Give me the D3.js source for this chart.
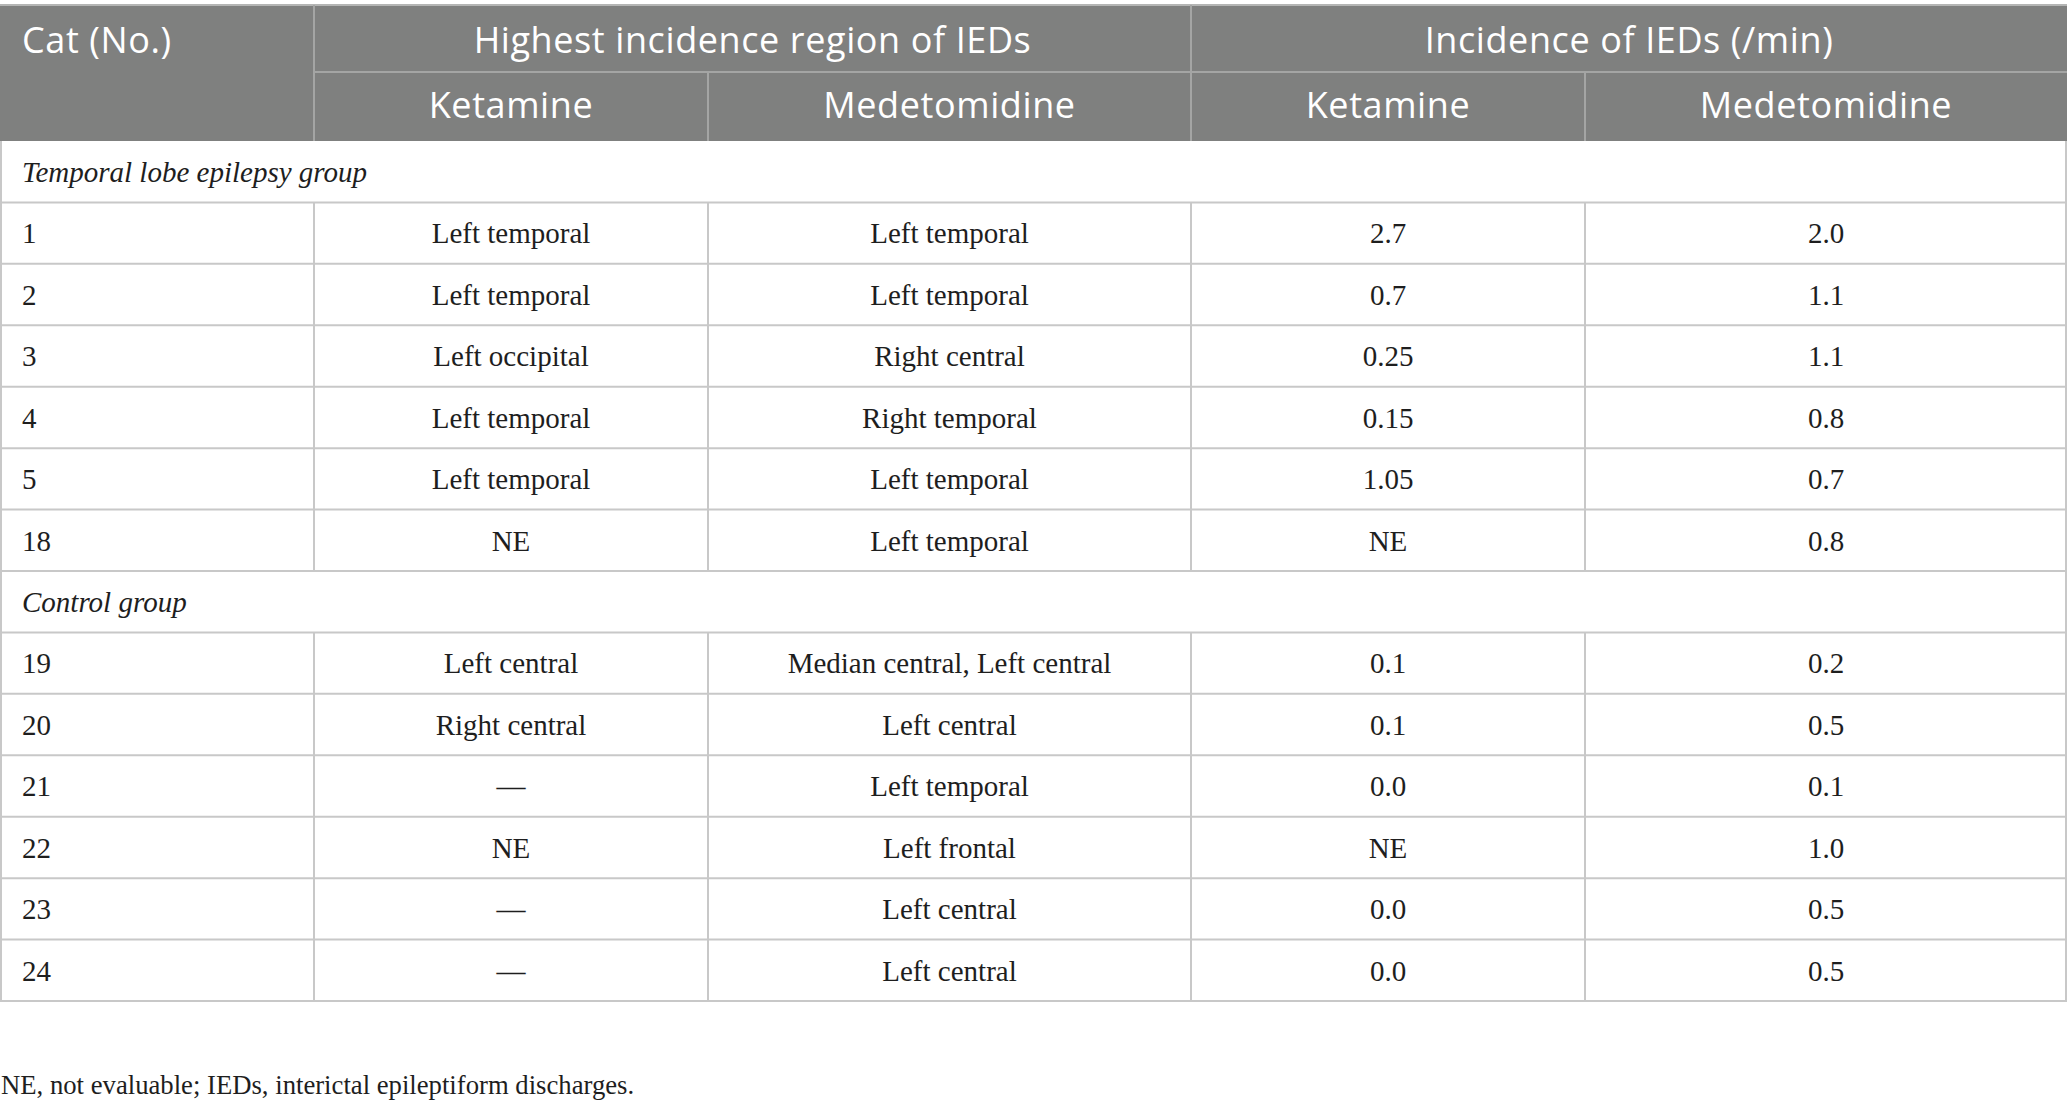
<!DOCTYPE html>
<html>
<head>
<meta charset="utf-8">
<script src="https://cdn.jsdelivr.net/npm/d3@7"></script>
<style>
  html, body { margin: 0; padding: 0; background: #ffffff; }
  svg { display: block; }
</style>
</head>
<body>
<div id="chart"></div>
<script>
// ---------- DATA ----------
const firstHeader = "Cat (No.)";
const headerGroups = ["Highest incidence region of IEDs", "Incidence of IEDs (/min)"];
const subHeaders = ["Ketamine", "Medetomidine", "Ketamine", "Medetomidine"];
const groupLabels = ["Temporal lobe epilepsy group", "Control group"];
const cats = ["1", "2", "3", "4", "5", "18", "19", "20", "21", "22", "23", "24"];
const catGroup = [0, 0, 0, 0, 0, 0, 1, 1, 1, 1, 1, 1];
const regionKetamine = ["Left temporal", "Left temporal", "Left occipital", "Left temporal", "Left temporal", "NE",
  "Left central", "Right central", "—", "NE", "—", "—"];
const regionMedetomidine = ["Left temporal", "Left temporal", "Right central", "Right temporal", "Left temporal", "Left temporal",
  "Median central, Left central", "Left central", "Left temporal", "Left frontal", "Left central", "Left central"];
const incidenceKetamine = ["2.7", "0.7", "0.25", "0.15", "1.05", "NE", "0.1", "0.1", "0.0", "NE", "0.0", "0.0"];
const incidenceMedetomidine = ["2.0", "1.1", "1.1", "0.8", "0.7", "0.8", "0.2", "0.5", "0.1", "1.0", "0.5", "0.5"];
const footnote = "NE, not evaluable; IEDs, interictal epileptiform discharges.";

// ---------- LAYOUT ----------
const W = 2068, H = 1102;
const colEdges = [0, 314, 708, 1191, 1585, 2067];
const tableTop = 5, headRow1Bottom = 72, headBottom = 141, bodyBottom = 1001;
const headerFill = "#7f807f", headerLine = "#a4a5a4", gridLine = "#c8c8c8";
const sansFont = "'Open Sans', 'Noto Sans', sans-serif";
const serifFont = "'Liberation Serif', 'DejaVu Serif', serif";

// Build body rows: group label rows followed by their cats
const rows = [];
groupLabels.forEach((g, gi) => {
  rows.push({ type: "group", label: g });
  cats.forEach((c, i) => {
    if (catGroup[i] === gi) {
      rows.push({ type: "data", cells: [c, regionKetamine[i], regionMedetomidine[i], incidenceKetamine[i], incidenceMedetomidine[i]] });
    }
  });
});

const svg = d3.select("#chart").append("svg").attr("width", W).attr("height", H);

const yBody = d3.scaleBand().domain(d3.range(rows.length)).range([headBottom, bodyBottom]).padding(0);
const colX = d3.scaleOrdinal().domain(d3.range(colEdges.length)).range(colEdges);
const colCenter = i => (colX(i) + colX(i + 1)) / 2;

// ---------- HEADER ----------
svg.append("rect").attr("x", 0).attr("y", tableTop).attr("width", colEdges[5]).attr("height", headBottom - tableTop)
  .attr("fill", headerFill);
// top border
svg.append("line").attr("x1", 0).attr("x2", colEdges[5]).attr("y1", tableTop).attr("y2", tableTop)
  .attr("stroke", "#b4b5b4").attr("stroke-width", 2);
// header internal lines
svg.append("line").attr("x1", colEdges[1]).attr("x2", colEdges[5]).attr("y1", headRow1Bottom).attr("y2", headRow1Bottom)
  .attr("stroke", headerLine).attr("stroke-width", 2);
svg.append("line").attr("x1", colEdges[1]).attr("x2", colEdges[1]).attr("y1", tableTop).attr("y2", headBottom)
  .attr("stroke", headerLine).attr("stroke-width", 2);
svg.append("line").attr("x1", colEdges[3]).attr("x2", colEdges[3]).attr("y1", tableTop).attr("y2", headBottom)
  .attr("stroke", headerLine).attr("stroke-width", 2);
[2, 4].forEach(i => {
  svg.append("line").attr("x1", colEdges[i]).attr("x2", colEdges[i]).attr("y1", headRow1Bottom).attr("y2", headBottom)
    .attr("stroke", headerLine).attr("stroke-width", 2);
});

const headText = (x, y, t, anchor) => svg.append("text").attr("x", x).attr("y", y).attr("text-anchor", anchor || "middle")
  .attr("font-family", sansFont).attr("font-size", 36).attr("letter-spacing", 0.6).attr("fill", "#ffffff").text(t);

headText(22, 53, firstHeader, "start");
headText((colEdges[1] + colEdges[3]) / 2, 53, headerGroups[0]);
headText((colEdges[3] + colEdges[5]) / 2, 53, headerGroups[1]);
subHeaders.forEach((s, i) => headText(colCenter(i + 1), 118, s));

// ---------- BODY ----------
const body = svg.append("g");
rows.forEach((r, ri) => {
  const y0 = yBody(ri), y1 = y0 + yBody.bandwidth();
  // bottom line
  body.append("line").attr("x1", 0).attr("x2", colEdges[5]).attr("y1", y1).attr("y2", y1)
    .attr("stroke", gridLine).attr("stroke-width", 2);
  // outer borders
  [0, 5].forEach(i => {
    body.append("line").attr("x1", colEdges[i] + (i === 0 ? 1 : -1)).attr("x2", colEdges[i] + (i === 0 ? 1 : -1))
      .attr("y1", y0).attr("y2", y1).attr("stroke", gridLine).attr("stroke-width", 2);
  });
  const baseline = y0 + 41;
  if (r.type === "group") {
    body.append("text").attr("x", 22).attr("y", baseline).attr("font-family", serifFont).attr("font-style", "italic")
      .attr("font-size", 29).attr("fill", "#1e1e1e").text(r.label);
  } else {
    [1, 2, 3, 4].forEach(i => {
      body.append("line").attr("x1", colEdges[i]).attr("x2", colEdges[i]).attr("y1", y0).attr("y2", y1)
        .attr("stroke", gridLine).attr("stroke-width", 2);
    });
    r.cells.forEach((c, ci) => {
      body.append("text")
        .attr("x", ci === 0 ? 22 : colCenter(ci))
        .attr("y", baseline)
        .attr("text-anchor", ci === 0 ? "start" : "middle")
        .attr("font-family", serifFont).attr("font-size", 29).attr("fill", "#1e1e1e").text(c);
    });
  }
});

// ---------- FOOTNOTE ----------
svg.append("text").attr("x", 1).attr("y", 1094).attr("font-family", serifFont).attr("font-size", 26.7)
  .attr("fill", "#1e1e1e").text(footnote);
</script>
</body>
</html>
